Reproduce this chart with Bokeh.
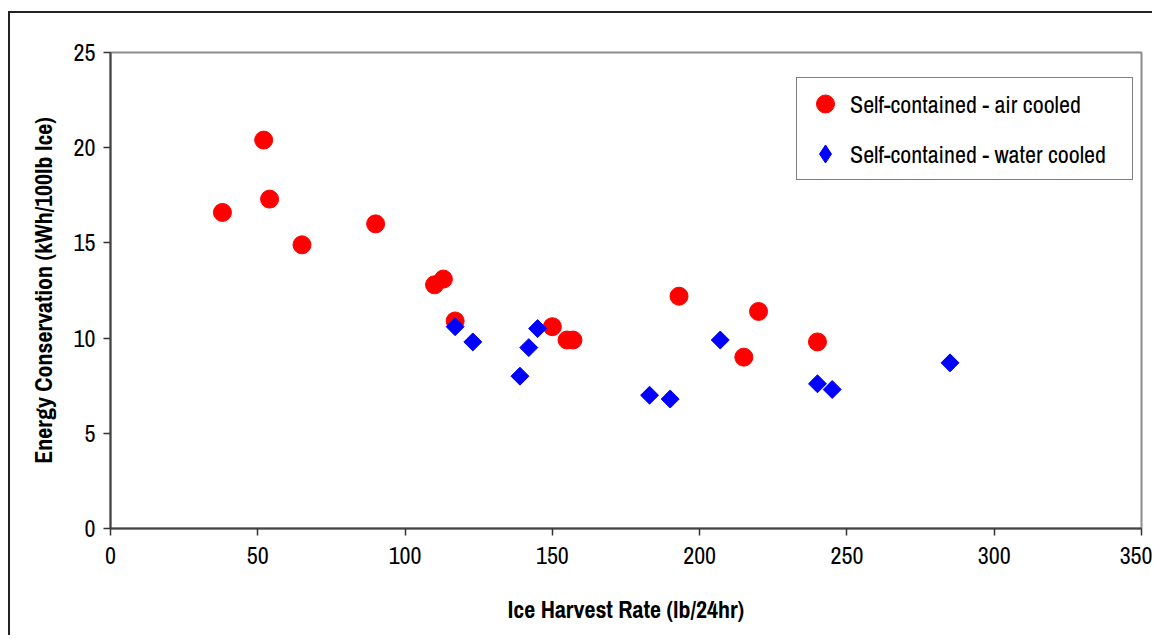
import math
from bokeh.plotting import figure
from bokeh.models import ColumnDataSource, Legend, LegendItem, FixedTicker, Range1d
from bokeh.embed import file_html
from bokeh.resources import INLINE

# ---- data ----
air_x = [38, 52, 54, 65, 90, 110, 113, 117, 150, 155, 157, 193, 215, 220, 240]
air_y = [16.6, 20.4, 17.3, 14.9, 16.0, 12.8, 13.1, 10.9, 10.6, 9.9, 9.9, 12.2, 9.0, 11.4, 9.8]

water_x = [117, 123, 139, 142, 145, 183, 190, 207, 240, 245, 285]
water_y = [10.6, 9.8, 8.0, 9.5, 10.5, 7.0, 6.8, 9.9, 7.6, 7.3, 8.7]

air_label = "Self-contained - air cooled"
water_label = "Self-contained - water cooled"
x_title = "Ice Harvest Rate (lb/24hr)"
y_title = "Energy Conservation (kWh/100lb Ice)"
x_ticks = [0, 50, 100, 150, 200, 250, 300, 350]
y_ticks = [0, 5, 10, 15, 20, 25]

FONT = "'Archivo Narrow', 'Roboto Condensed', 'Liberation Sans', sans-serif"

p = figure(width=1144, height=624, output_backend="svg", toolbar_location=None,
           x_range=Range1d(0, 350), y_range=Range1d(0, 25),
           min_border_left=100, min_border_top=39, min_border_right=13, min_border_bottom=109)
p.margin = (11, 0, 0, 8)
p.styles = {"border-left": "2px solid #222", "border-top": "2px solid #222"}

p.background_fill_color = "white"
p.border_fill_color = "white"
p.outline_line_color = "#8c8c8c"
p.outline_line_width = 2
p.xgrid.visible = False
p.ygrid.visible = False

air_src = ColumnDataSource(dict(x=air_x, y=air_y))
water_src = ColumnDataSource(dict(x=water_x, y=water_y))

r_air = p.scatter("x", "y", source=air_src, marker="circle", size=18,
                  fill_color="#ff0000", line_color="#ff0000")
r_water = p.scatter("x", "y", source=water_src, marker="square", size=12.7, angle=math.pi / 4,
                    fill_color="#0000ff", line_color="#0000ff")
# hidden twin, only used to draw the diamond symbol in the legend
r_water_leg = p.scatter("x", "y", source=water_src, marker="diamond", size=18,
                        fill_color="#0000ff", line_color="#0000ff", visible=False)

for ax, ticks in ((p.xaxis[0], x_ticks), (p.yaxis[0], y_ticks)):
    ax.ticker = FixedTicker(ticks=ticks)
    ax.minor_tick_line_color = None
    ax.major_tick_in = 0
    ax.major_tick_out = 7
    ax.major_tick_line_color = "#333333"
    ax.major_tick_line_width = 1.5
    ax.axis_line_color = "#444444"
    ax.axis_line_width = 2
    ax.major_label_text_font = FONT
    ax.major_label_text_font_size = "24px"
    ax.major_label_text_color = "black"
    ax.axis_label_text_font = FONT
    ax.axis_label_text_font_size = "24px"
    ax.axis_label_text_font_style = "bold"
    ax.axis_label_text_color = "black"

p.xaxis.axis_label = x_title
p.yaxis.axis_label = y_title
p.xaxis.major_label_standoff = 11
p.yaxis.major_label_standoff = 8
p.xaxis.axis_label_standoff = 26
p.yaxis.axis_label_standoff = 12

legend = Legend(items=[LegendItem(label=air_label, renderers=[r_air]),
                       LegendItem(label=water_label, renderers=[r_water_leg])])
legend.border_line_color = "black"
legend.border_line_width = 1
legend.background_fill_color = "white"
legend.background_fill_alpha = 1
legend.label_text_font = FONT
legend.label_text_font_size = "24px"
legend.label_text_color = "black"
legend.glyph_width = 50
legend.glyph_height = 45
legend.label_height = 45
legend.label_standoff = 0
legend.label_width = 279
legend.padding = 3
legend.spacing = 5
legend.margin = 0
legend.location = (686, 348)
p.add_layout(legend, "center")

open("out.html", "w").write(file_html(p, INLINE))
